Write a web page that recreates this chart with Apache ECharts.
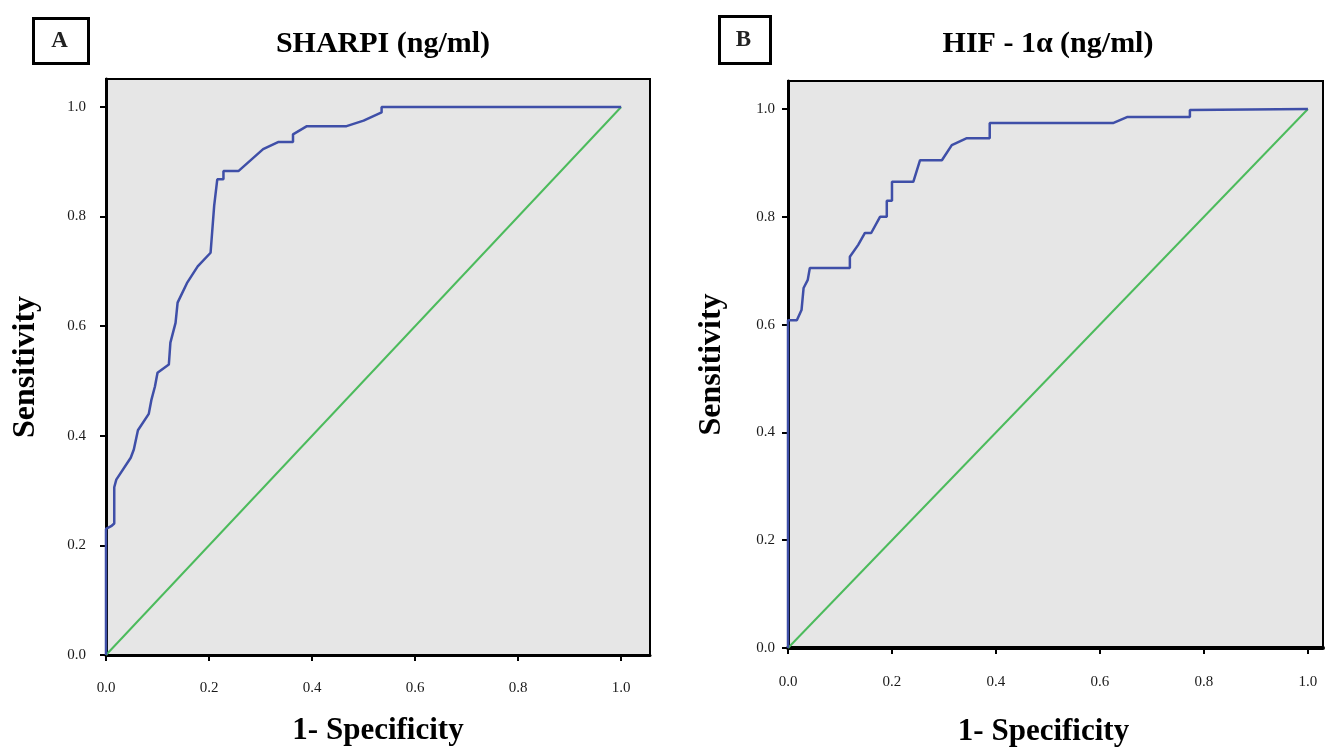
<!DOCTYPE html>
<html>
<head>
<meta charset="utf-8">
<title>ROC</title>
<script src="https://cdn.jsdelivr.net/npm/echarts@6.0.0/dist/echarts.min.js"></script>
<style>
  html, body { margin: 0; padding: 0; background: #fff; }
  #chart { width: 1325px; height: 754px; }
</style>
</head>
<body>
<div id="chart"></div>
<script>
// ROC curve A - SHARPI
var fprA = [0, 0, 0.01, 0.016, 0.016, 0.02, 0.048, 0.054, 0.062, 0.083, 0.088, 0.095, 0.1, 0.122, 0.125, 0.135, 0.139, 0.158, 0.178, 0.203, 0.21, 0.216, 0.228, 0.228, 0.257, 0.305, 0.334, 0.363, 0.363, 0.39, 0.467, 0.5, 0.535, 0.535, 1]
var tprA = [0, 0.23, 0.235, 0.24, 0.306, 0.32, 0.36, 0.375, 0.41, 0.44, 0.465, 0.49, 0.515, 0.53, 0.57, 0.606, 0.643, 0.68, 0.709, 0.734, 0.82, 0.868, 0.868, 0.883, 0.883, 0.923, 0.936, 0.936, 0.95, 0.965, 0.965, 0.975, 0.99, 1, 1]

// ROC curve B - HIF-1a
var fprB = [0, 0, 0.017, 0.026, 0.03, 0.038, 0.042, 0.119, 0.119, 0.135, 0.148, 0.16, 0.177, 0.19, 0.19, 0.2, 0.2, 0.241, 0.254, 0.296, 0.315, 0.344, 0.388, 0.388, 0.625, 0.652, 0.773, 0.773, 1]
var tprB = [0, 0.608, 0.608, 0.627, 0.668, 0.683, 0.705, 0.705, 0.726, 0.748, 0.77, 0.77, 0.8, 0.8, 0.83, 0.83, 0.865, 0.865, 0.905, 0.905, 0.933, 0.946, 0.946, 0.974, 0.974, 0.985, 0.985, 0.998, 1]

// reference line
var refX = [0, 1]
var refY = [0, 1]

var tickValues = [0, 0.2, 0.4, 0.6, 0.8, 1.0]
var tickLabels = ['0.0', '0.2', '0.4', '0.6', '0.8', '1.0']

var titles = ['SHARPI (ng/ml)', 'HIF - 1\u03b1 (ng/ml)']
var xName = '1- Specificity'
var yName = 'Sensitivity'

function zip (xs, ys) {
  return xs.map(function (x, i) { return [x, ys[i]] })
}

function tickFmt (v) {
  var i = tickValues.findIndex(function (t) { return Math.abs(t - v) < 1e-6 })
  return i < 0 ? '' : tickLabels[i]
}

var serif = "'Liberation Serif', 'DejaVu Serif', serif"

function makeAxis (type, idx, max, opts) {
  var ax = {
    type: 'value',
    gridIndex: idx,
    min: 0,
    max: max,
    interval: 0.2,
    name: type === 'x' ? xName : yName,
    nameLocation: 'middle',
    nameGap: opts.nameGap,
    nameTextStyle: {
      fontFamily: serif,
      fontWeight: 'bold',
      fontSize: type === 'x' ? 31 : 32,
      color: '#000',
      padding: opts.namePad || 0
    },
    axisLine: { show: true, lineStyle: { color: '#000', width: opts.lineW || 3 } },
    axisTick: { show: true, length: 6, customValues: tickValues, lineStyle: { color: '#000', width: 2 } },
    axisLabel: {
      customValues: tickValues,
      formatter: tickFmt,
      margin: opts.labelMargin,
      fontFamily: serif,
      fontSize: 15,
      color: '#1a1a1a'
    },
    splitLine: { show: false }
  }
  if (type === 'y') ax.nameRotate = 90
  return ax
}

function initChart () {
  var chart = echarts.init(document.getElementById('chart'), null, { renderer: 'canvas' })
  chart.setOption({
    animation: false,
    backgroundColor: '#fff',
    title: [
      { text: titles[0], left: 378, top: 24, textAlign: 'center',
        textStyle: { fontFamily: serif, fontWeight: 'bold', fontSize: 30, color: '#000' } },
      { text: titles[1], left: 1043, top: 24, textAlign: 'center',
        textStyle: { fontFamily: serif, fontWeight: 'bold', fontSize: 30, color: '#000' } }
    ],
    grid: [
      { left: 106, top: 79, width: 544, height: 576, show: true,
        backgroundColor: '#e6e6e6', borderColor: '#000', borderWidth: 2 },
      { left: 788, top: 81, width: 535, height: 567, show: true,
        backgroundColor: '#e6e6e6', borderColor: '#000', borderWidth: 2 }
    ],
    xAxis: [
      makeAxis('x', 0, 1.056, { nameGap: 60, labelMargin: 26 }),
      makeAxis('x', 1, 1.029, { nameGap: 68, labelMargin: 27, lineW: 4, namePad: [0, 24, 0, 0] })
    ],
    yAxis: [
      makeAxis('y', 0, 1.051, { nameGap: 64, labelMargin: 20 }),
      makeAxis('y', 1, 1.052, { nameGap: 60, labelMargin: 13 })
    ],
    graphic: [
      { type: 'rect', left: 32, top: 17, shape: { width: 55, height: 45 },
        style: { fill: '#fff', stroke: '#000', lineWidth: 3 } },
      { type: 'text', x: 59.5, y: 41,
        style: { text: 'A', fontFamily: serif, fontSize: 23, fontWeight: 'bold', fill: '#222', align: 'center', verticalAlign: 'middle' } },
      { type: 'rect', left: 718, top: 15, shape: { width: 51, height: 47 },
        style: { fill: '#fff', stroke: '#000', lineWidth: 3 } },
      { type: 'text', x: 743.5, y: 40,
        style: { text: 'B', fontFamily: serif, fontSize: 23, fontWeight: 'bold', fill: '#222', align: 'center', verticalAlign: 'middle' } }
    ],
    series: [
      { type: 'line', xAxisIndex: 0, yAxisIndex: 0, data: zip(refX, refY), showSymbol: false, clip: false,
        lineStyle: { color: '#4cbb5c', width: 2 } },
      { type: 'line', xAxisIndex: 0, yAxisIndex: 0, data: zip(fprA, tprA), showSymbol: false, clip: false,
        lineStyle: { color: '#3f4fa8', width: 2.5 } },
      { type: 'line', xAxisIndex: 1, yAxisIndex: 1, data: zip(refX, refY), showSymbol: false, clip: false,
        lineStyle: { color: '#4cbb5c', width: 2 } },
      { type: 'line', xAxisIndex: 1, yAxisIndex: 1, data: zip(fprB, tprB), showSymbol: false, clip: false,
        lineStyle: { color: '#3f4fa8', width: 2.5 } }
    ]
  })
}

initChart()
</script>
</body>
</html>
